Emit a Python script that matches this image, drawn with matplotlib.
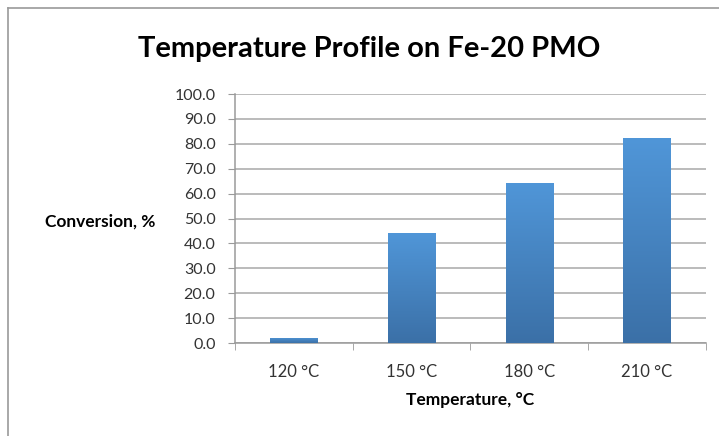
import numpy as np
import matplotlib.pyplot as plt
from matplotlib.lines import Line2D

categories = ['120 °C', '150 °C', '180 °C', '210 °C']
conversion = [2.1, 44.0, 64.4, 82.2]
yticks = [0, 10, 20, 30, 40, 50, 60, 70, 80, 90, 100]

plt.rcParams['font.family'] = ['Lato', 'DejaVu Sans']

fig = plt.figure(figsize=(7.19, 4.36), dpi=100)
ax = fig.add_axes([0.3268, 0.2133, 0.655, 0.571])

x = np.arange(len(categories))
bars = ax.bar(x, conversion, width=0.4, color='#4a86c5', zorder=3)

# vertical gradient inside each bar
grad = np.linspace(0, 1, 256).reshape(-1, 1)
cmap = plt.matplotlib.colors.LinearSegmentedColormap.from_list('bar', ['#3b70a7', '#5096d8'])
for b in bars:
    x0, y0 = b.get_x(), b.get_y()
    im = ax.imshow(grad, extent=[x0, x0 + b.get_width(), y0, y0 + b.get_height()],
                   origin='lower', aspect='auto', cmap=cmap, zorder=4)
    im.set_clip_path(b)

ax.set_xlim(-0.5, len(categories) - 0.5)
ax.set_ylim(0, 100)
ax.set_yticks(yticks)
ax.set_yticklabels([f'{v:.1f}' for v in yticks])
ax.set_xticks(x)
ax.set_xticklabels(categories)
ax.set_xticks(np.arange(len(categories) + 1) - 0.5, minor=True)

ax.grid(axis='y', color='#a8a8a8', linewidth=1.1, zorder=0)
ax.set_axisbelow(True)
for s in ['top', 'right']:
    ax.spines[s].set_visible(False)
for s in ['left', 'bottom']:
    ax.spines[s].set_color('#9a9a9a')
    ax.spines[s].set_linewidth(1.1)

ax.tick_params(axis='y', length=5, color='#9a9a9a', labelsize=11.5, pad=9, labelcolor='#333333')
ax.tick_params(axis='x', which='major', length=0, labelsize=12, pad=15, labelcolor='#333333')
ax.tick_params(axis='x', which='minor', length=5, color='#9a9a9a')

ax.set_xlabel('Temperature, °C', fontsize=12.5, fontweight='bold', labelpad=9)
fig.text(0.139, 0.493, 'Conversion, %', fontsize=12.5, fontweight='bold',
         ha='center', va='center')
fig.text(0.514, 0.888, 'Temperature Profile on Fe-20 PMO', fontsize=21,
         fontweight='bold', ha='center', va='center')

# outer chart border (right and bottom are cut off)
fig.add_artist(Line2D([8 / 719, 1], [1 - 8 / 436, 1 - 8 / 436], color='#9a9a9a', linewidth=1.2))
fig.add_artist(Line2D([8 / 719, 8 / 719], [0, 1 - 8 / 436], color='#9a9a9a', linewidth=1.2))

plt.savefig('out.png', dpi=100)
plt.close()
